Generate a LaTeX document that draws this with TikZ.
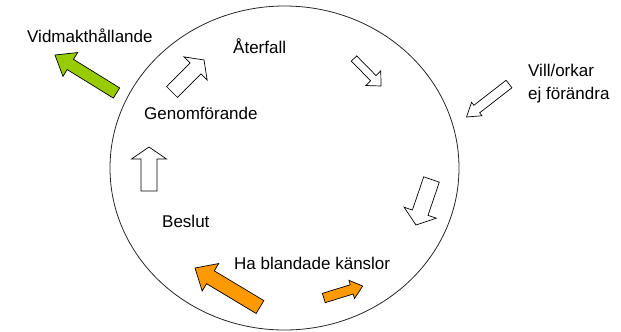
\documentclass[tikz,border=0pt]{standalone}
\usepackage{fontspec}
\setmainfont{Liberation Sans}
\usetikzlibrary{calc}
\definecolor{pgreen}{RGB}{153,204,0}
\definecolor{porange}{RGB}{255,153,0}
\tikzset{
  lbl/.style={inner sep=0pt, anchor=base west, font=\fontsize{17bp}{20bp}\selectfont},
  openarrow/.style={draw=black, line width=0.7bp, fill=white, line join=miter},
  greenarrow/.style={draw=black, line width=0.7bp, fill=pgreen},
  orangearrow/.style={draw=black, line width=0.7bp, fill=porange},
  cycleline/.style={draw=black!85, line width=0.8bp}
}
% tail, tip, shaft width, head width, head length, style
\newcommand{\blockarrow}[6]{%
  \path (#1) coordinate (T) (#2) coordinate (P) ($(P)!#5bp!(T)$) coordinate (B);
  \draw[#6] ($(T)!#3bp/2!90:(P)$) -- ($(B)!#3bp/2!-90:(T)$) -- ($(B)!#4bp/2!-90:(T)$)
    -- (P) -- ($(B)!#4bp/2!90:(T)$) -- ($(B)!#3bp/2!90:(T)$) -- ($(T)!#3bp/2!-90:(P)$) -- cycle;}
\begin{document}
\begin{tikzpicture}[x=1bp,y=-1bp]
\useasboundingbox (0,0) rectangle (621,331);
% cycle outline
\coordinate (c) at (284.5,168);
\draw[cycleline] (c) ellipse [x radius=174.5bp, y radius=162bp];
% labels
\node[lbl] (vid) at (27,42) {Vidmakthållande};
\node[lbl] (ater) at (233,53) {Återfall};
\node[lbl] (genom) at (144,119) {Genomförande};
\node[lbl] (beslut) at (162,227) {Beslut};
\node[lbl] (ha) at (234,269) {Ha blandade känslor};
\node[lbl] (vill) at (528,76) {Vill/orkar};
\node[lbl] (ej) at (528,99) {ej förändra};
% block arrows
\blockarrow{116.5,93}{55,55}{12}{28}{18}{greenarrow}
\blockarrow{172,92}{204,60}{15.5}{33}{12}{openarrow}
\blockarrow{354,58.5}{381,86}{7.5}{21}{11}{openarrow}
\blockarrow{149,191}{149,147}{16}{35}{12}{openarrow}
\blockarrow{431.5,179.5}{416,225}{16.5}{34}{13}{openarrow}
\blockarrow{509,84}{466.5,117}{9.5}{17}{13}{openarrow}
\blockarrow{323.8,298}{362.7,286}{9.7}{19}{11.5}{orangearrow}
\blockarrow{260,307}{195,268}{15}{32}{18}{orangearrow}
\end{tikzpicture}
\end{document}
